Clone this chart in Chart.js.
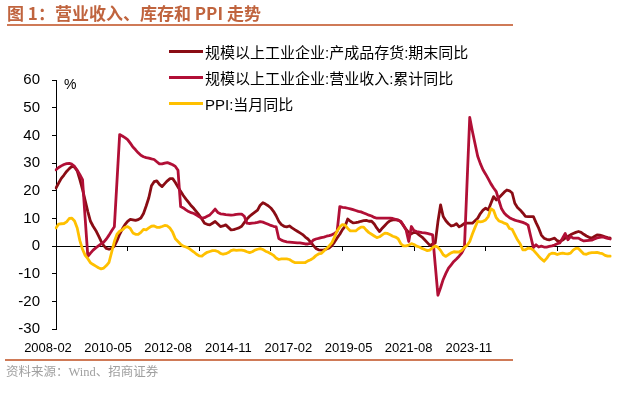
<!DOCTYPE html>
<html><head><meta charset="utf-8">
<script src="https://cdn.jsdelivr.net/npm/chart.js@4.4.1/dist/chart.umd.min.js"></script>
<style>
html,body{margin:0;padding:0;background:#fff;}
#wrap{position:relative;width:623px;height:399px;overflow:hidden;background:#fff;}
#c{position:absolute;left:0;top:0;}
.title{position:absolute;left:7px;top:4px;font:700 17px "Noto Sans CJK SC",sans-serif;color:#c0643e;white-space:nowrap;line-height:18px;}
.hr{position:absolute;height:2px;background:#cf7a57;}
.src{position:absolute;left:6px;top:365px;font:12.5px "Liberation Serif","Noto Sans CJK SC",serif;color:#a0a0a0;white-space:nowrap;line-height:14px;}
.unit{position:absolute;left:64px;top:76px;font:14px "Liberation Sans",Arial,sans-serif;color:#000;line-height:16px;}
.li{position:absolute;left:169px;height:20px;display:flex;align-items:center;font:15px "Liberation Sans",Arial,"Noto Sans CJK SC",sans-serif;white-space:nowrap;color:#000;}
.sw{display:inline-block;width:34px;height:3px;margin-right:2px;}
</style>
</head><body>
<div id="wrap">
<canvas id="c" width="623" height="399"></canvas>
<div class="title">图 1：营业收入、库存和 PPI 走势</div>
<div class="hr" style="left:7px;top:24px;width:506px;"></div>
<div class="unit">%</div>
<div id="legend"></div>
<div class="hr" style="left:5px;top:359px;width:508px;"></div>
<div class="src">资料来源：Wind、招商证券</div>
</div>
<script>
const xTickLabels = ['2008-02','2010-05','2012-08','2014-11','2017-02','2019-05','2021-08','2023-11'];
const seriesNames = ['规模以上工业企业:产成品存货:期末同比','规模以上工业企业:营业收入:累计同比','PPI:当月同比'];
const seriesColors = ['#8a0c14','#b10f36','#ffc000'];

// monthly, 2008-02 .. 2025-07
const inventory = [
 21.0, 22.8, 24.5, 25.7, 27.0, 28.0, 28.8, 28.5, 27.2, 24.0, 20.5,
 16.5, 12.5, 9.0, 7.2, 5.7, 3.8, 1.8, 0.2, -0.8, -1.1, -0.8, 0.0,
 2.0, 4.3, 6.2, 7.8, 9.0, 9.7, 9.5, 9.3, 9.6, 10.2, 11.8, 14.5,
 17.5, 21.8, 23.3, 23.6, 22.3, 21.5, 22.6, 23.6, 24.4, 24.4, 23.0, 21.4,
 19.8, 18.3, 17.0, 15.8, 14.6, 13.6, 12.4, 11.2, 9.8, 8.3, 7.9, 7.7,
 8.3, 8.9, 8.0, 7.1, 7.3, 7.7, 6.8, 5.9, 6.0, 6.3, 6.6, 7.2,
 8.5, 9.8, 10.8, 11.6, 12.3, 13.0, 14.8, 15.7, 15.2, 14.6, 13.8, 12.6,
 11.0, 9.0, 7.8, 7.2, 7.0, 7.3, 6.6, 6.0, 5.4, 4.8, 4.2, 3.3,
 2.6, 1.5, 0.3, -0.8, -1.3, -1.4, -1.3, -1.0, -0.6, 0.2, 1.5, 3.0,
 4.3, 6.0, 7.2, 9.8, 9.0, 8.4, 8.5, 8.7, 9.0, 9.2, 9.3, 9.0,
 9.0, 8.0, 6.5, 5.3, 6.5, 7.5, 8.5, 9.2, 9.5, 9.6, 9.5, 8.8,
 7.5, 6.0, 5.0, 4.5, 5.0, 4.8, 4.0, 3.3, 2.3, 1.3, 0.3, 0.8,
 1.2, 8.8, 14.9, 10.7, 9.2, 8.1, 7.3, 7.5, 8.1, 7.0, 7.5, 8.2,
 8.3, 8.3, 8.3, 9.2, 10.1, 11.8, 13.0, 13.7, 13.1, 15.5, 17.9, 16.7,
 17.5, 18.5, 19.5, 20.3, 20.0, 19.2, 15.5, 14.0, 13.1, 12.0, 10.8, 10.7,
 10.7, 10.7, 8.5, 6.5, 4.0, 2.9, 2.5, 2.3, 2.6, 2.9, 2.0, 1.7,
 2.2, 2.9, 3.5, 4.1, 4.6, 5.0, 5.3, 5.0, 4.3, 3.7, 3.2, 2.9,
 3.5, 4.1, 4.0, 3.7, 3.4, 3.1, 2.9
];
const revenue = [
 27.6, 28.4, 29.0, 29.5, 29.8, 29.9, 29.6, 28.8, 27.4, 25.8, 24.0,
 10.0, -3.7, -2.5, -1.4, -0.6, 0.1, 0.8, 1.5, 2.6, 4.0, 5.6, 7.0,
 23.6, 40.3, 39.8, 39.2, 38.5, 37.2, 35.8, 34.8, 33.7, 32.8, 32.3, 32.0,
 31.8, 31.5, 31.3, 30.5, 29.7, 29.7, 30.0, 30.2, 29.8, 29.4, 28.8, 27.4,
 14.3, 13.8, 13.1, 12.5, 12.1, 11.8, 11.2, 10.6, 10.1, 10.3, 10.8, 11.3,
 12.3, 13.4, 12.2, 11.7, 11.6, 11.4, 11.3, 11.2, 11.3, 11.5, 11.6, 11.6,
 10.8, 8.3, 8.2, 8.3, 8.4, 8.6, 8.9, 8.7, 8.3, 7.9, 7.5, 7.2,
 7.0, 2.8, 2.2, 1.8, 1.6, 1.5, 1.4, 1.3, 1.2, 1.2, 1.0, 0.8,
 0.8, 1.0, 2.2, 2.6, 2.8, 3.1, 3.3, 3.6, 3.8, 4.1, 4.6, 5.3,
 14.3, 14.0, 13.9, 13.7, 13.5, 13.2, 12.9, 12.6, 12.4, 12.0, 11.6, 11.2,
 10.9, 10.4, 10.1, 10.1, 10.1, 10.1, 10.1, 10.1, 10.0, 9.7, 9.3, 9.0,
 7.5, 5.9, 1.7, 7.1, 5.6, 5.3, 5.1, 4.9, 4.8, 4.6, 4.4, 4.1,
 -6.8, -17.7, -15.0, -12.0, -9.8, -7.9, -6.7, -5.5, -4.6, -3.6, -2.4, -0.5,
 23.2, 46.5, 41.5, 37.0, 32.5, 29.8, 27.6, 26.0, 24.3, 22.5, 21.0, 19.7,
 16.5, 13.5, 12.0, 11.0, 10.3, 9.8, 9.4, 9.1, 8.9, 8.6, 8.2, 7.6,
 3.5, -0.5, 0.5, -0.3, 0.0, -0.3, -0.3, -0.1, 0.1, 0.4, 0.9, 1.2,
 2.9, 4.6, 2.3, 3.5, 2.9, 2.9, 2.9, 2.3, 1.9, 2.0, 2.1, 2.2,
 2.6, 3.0, 3.2, 3.4, 3.1, 2.8, 2.6
];
const ppi = [
 6.6, 8.0, 8.1, 8.2, 8.8, 10.0, 10.1, 9.1, 6.6, 2.0, -1.1,
 -3.3, -4.5, -6.0, -6.6, -7.2, -7.8, -8.2, -7.9, -7.0, -5.8, -2.1, 1.7,
 4.3, 5.4, 5.9, 6.8, 7.1, 6.4, 4.8, 4.3, 4.3, 5.0, 6.1, 5.9,
 6.6, 7.2, 7.3, 6.8, 6.8, 7.1, 7.5, 7.3, 6.5, 5.0, 2.7, 1.7,
 0.7, 0.0, -0.3, -0.7, -1.4, -2.1, -2.9, -3.5, -3.6, -2.8, -2.2, -1.9,
 -1.6, -1.6, -1.9, -2.6, -2.9, -2.7, -2.3, -1.6, -1.3, -1.5, -1.4, -1.4,
 -1.6, -2.0, -2.3, -2.0, -1.4, -1.1, -0.9, -1.2, -1.8, -2.2, -2.7, -3.3,
 -4.3, -4.8, -4.6, -4.6, -4.6, -4.8, -5.4, -5.9, -5.9, -5.9, -5.9, -5.9,
 -5.3, -4.9, -4.3, -3.4, -2.8, -2.6, -1.7, -0.8, 0.1, 1.2, 3.3, 5.5,
 6.9, 7.8, 7.6, 6.4, 5.5, 5.5, 5.5, 6.3, 6.9, 6.9, 5.8, 4.9,
 4.3, 3.7, 3.1, 3.4, 4.1, 4.7, 4.6, 4.1, 3.6, 3.3, 2.7, 0.9,
 0.1, 0.1, 0.4, 0.9, 0.6, 0.0, -0.3, -0.8, -1.2, -1.6, -1.4, -0.5,
 0.1, -0.4, -1.5, -3.1, -3.7, -3.0, -2.4, -2.0, -2.1, -2.1, -1.5, -0.4,
 0.3, 1.7, 4.4, 6.8, 9.0, 8.8, 9.0, 9.5, 10.7, 13.5, 12.9, 10.3,
 9.1, 8.8, 8.3, 8.0, 6.4, 6.1, 4.2, 2.3, 0.9, -1.3, -1.3, -0.7,
 -0.8, -1.4, -2.5, -3.6, -4.6, -5.4, -4.4, -3.0, -2.5, -2.6, -3.0, -2.7,
 -2.5, -2.7, -2.8, -2.5, -1.4, -0.8, -0.8, -1.8, -2.8, -2.9, -2.5, -2.3,
 -2.3, -2.2, -2.5, -2.7, -3.3, -3.6, -3.6
];

const months = [];
for (let i = 0; i < ppi.length; i++) {
  const t = 2008 * 12 + 1 + i;
  months.push(Math.floor(t / 12) + '-' + String(t % 12 + 1).padStart(2, '0'));
}

// HTML legend
const legend = document.getElementById('legend');
const rowTop = [41, 67, 93];
seriesNames.forEach((n, i) => {
  const d = document.createElement('div');
  d.className = 'li';
  d.style.top = rowTop[i] + 'px';
  const sw = document.createElement('span');
  sw.className = 'sw';
  sw.style.background = seriesColors[i];
  const tx = document.createElement('span');
  tx.textContent = n;
  d.appendChild(sw); d.appendChild(tx);
  legend.appendChild(d);
});

new Chart(document.getElementById('c'), {
  type: 'line',
  data: {
    labels: months,
    datasets: [
      {label: seriesNames[0], data: inventory, borderColor: seriesColors[0], backgroundColor: seriesColors[0], order: 3, xAxisID: 'x', yAxisID: 'y'},
      {label: seriesNames[1], data: revenue, borderColor: seriesColors[1], backgroundColor: seriesColors[1], order: 2, xAxisID: 'x', yAxisID: 'y'},
      {label: seriesNames[2], data: ppi, borderColor: seriesColors[2], backgroundColor: seriesColors[2], order: 1, xAxisID: 'x', yAxisID: 'y'}
    ]
  },
  options: {
    responsive: false,
    animation: false,
    devicePixelRatio: 1,
    layout: {padding: {left: 0, top: 80, right: 12.7, bottom: 39.7}},
    elements: {
      point: {radius: 0, hoverRadius: 0},
      line: {borderWidth: 2.8, tension: 0, borderJoinStyle: 'round', borderCapStyle: 'round', fill: false}
    },
    plugins: {legend: {display: false}, tooltip: {enabled: false}},
    events: [],
    scales: {
      x: {
        type: 'category',
        position: {y: 0},
        offset: false,
        grid: {drawOnChartArea: false, drawTicks: true, tickLength: 4, tickWidth: 1,
               tickColor: c => (c.index % 27 === 0 ? '#000' : 'rgba(0,0,0,0)')},
        border: {color: '#000', width: 1},
        ticks: {display: false, autoSkip: false}
      },
      xl: {
        type: 'linear',
        position: 'bottom',
        min: 0.1331,
        max: 9.3545,
        grid: {display: false, drawTicks: false},
        border: {display: false},
        afterBuildTicks: s => { s.ticks = xTickLabels.map((_, i) => ({value: i})); },
        afterFit: s => { s.height = 30; },
        ticks: {autoSkip: false, maxRotation: 0, minRotation: 0, padding: 11, color: '#000',
                font: {family: '"Liberation Sans",Arial,sans-serif', size: 13},
                callback: v => xTickLabels[v]}
      },
      y: {
        type: 'linear',
        position: 'left',
        min: -30,
        max: 60,
        afterFit: s => { s.width = 56; },
        grid: {drawOnChartArea: false, drawTicks: true, tickLength: 4, tickColor: '#000', tickWidth: 1},
        border: {color: '#000', width: 1},
        ticks: {stepSize: 10, padding: 12, color: '#000',
                font: {family: '"Liberation Sans",Arial,sans-serif', size: 15}}
      }
    }
  }
});
</script>
</body></html>
